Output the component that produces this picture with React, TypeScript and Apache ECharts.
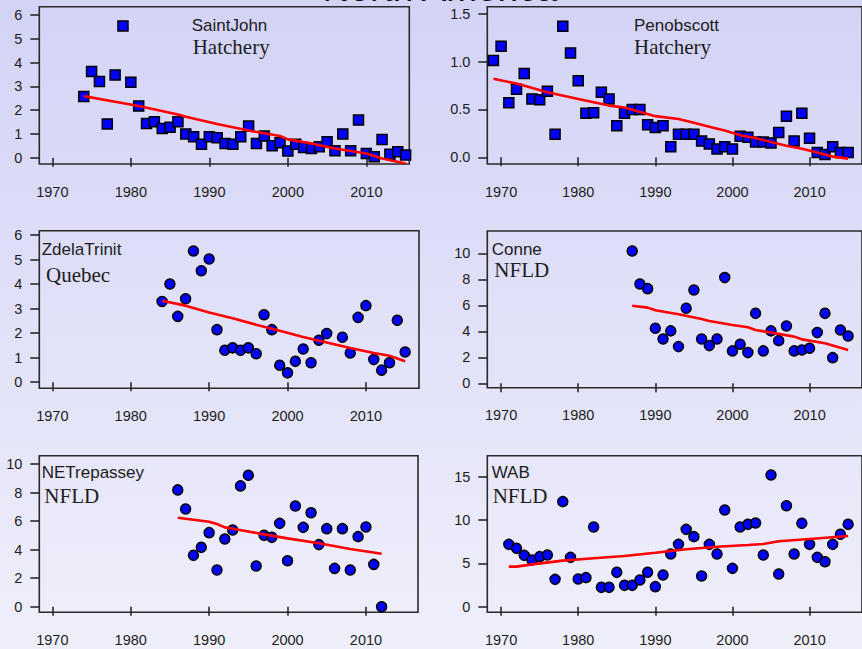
import { useEffect, useRef } from "react";
import * as echarts from "echarts";

// ---- SaintJohn (Hatchery) ----
const saintJohnYears = [1974, 1975, 1976, 1977, 1978, 1979, 1980, 1981, 1982, 1983, 1984, 1985, 1986, 1987, 1988, 1989, 1990, 1991, 1992, 1993, 1994, 1995, 1996, 1997, 1998, 1999, 2000, 2001, 2002, 2003, 2004, 2005, 2006, 2007, 2008, 2009, 2010, 2011, 2012, 2013, 2014, 2015];
const saintJohnValues = [2.57, 3.62, 3.2, 1.42, 3.48, 5.54, 3.17, 2.17, 1.44, 1.51, 1.23, 1.28, 1.51, 1.0, 0.88, 0.57, 0.88, 0.84, 0.6, 0.57, 0.88, 1.33, 0.6, 0.91, 0.5, 0.63, 0.28, 0.57, 0.43, 0.39, 0.46, 0.67, 0.29, 1.0, 0.29, 1.58, 0.18, 0.04, 0.77, 0.15, 0.25, 0.11];
const saintJohnTrendYears = [1974, 1978, 1981, 1986, 1987, 1991, 1995, 1999, 2000, 2003, 2006, 2010, 2012, 2015];
const saintJohnTrendValues = [2.59, 2.35, 2.17, 1.82, 1.72, 1.42, 1.14, 0.91, 0.77, 0.6, 0.39, 0.18, -0.03, -0.24];

// ---- Penobscott (Hatchery) ----
const penobscottYears = [1969, 1970, 1971, 1972, 1973, 1974, 1975, 1976, 1977, 1978, 1979, 1980, 1981, 1982, 1983, 1984, 1985, 1986, 1987, 1988, 1989, 1990, 1991, 1992, 1993, 1994, 1995, 1996, 1997, 1998, 1999, 2000, 2001, 2002, 2003, 2004, 2005, 2006, 2007, 2008, 2009, 2010, 2011, 2012, 2013, 2014, 2015];
const penobscottValues = [1.01, 1.16, 0.57, 0.71, 0.875, 0.61, 0.6, 0.69, 0.24, 1.37, 1.09, 0.8, 0.46, 0.465, 0.68, 0.61, 0.33, 0.46, 0.5, 0.5, 0.34, 0.31, 0.33, 0.11, 0.24, 0.24, 0.24, 0.17, 0.14, 0.087, 0.11, 0.087, 0.22, 0.21, 0.16, 0.16, 0.15, 0.26, 0.43, 0.17, 0.46, 0.2, 0.05, 0.03, 0.11, 0.05, 0.05];
const penobscottTrendYears = [1969, 1972, 1976, 1980, 1984, 1986, 1990, 1993, 1995, 1997, 1999, 2001, 2003, 2005, 2007, 2009, 2011, 2013, 2015];
const penobscottTrendValues = [0.82, 0.77, 0.68, 0.61, 0.54, 0.52, 0.43, 0.4, 0.36, 0.32, 0.28, 0.23, 0.2, 0.16, 0.12, 0.09, 0.05, 0.007, -0.014];

// ---- ZdelaTrinit (Quebec) ----
const zdelaTrinitYears = [1984, 1985, 1986, 1987, 1988, 1989, 1990, 1991, 1992, 1993, 1994, 1995, 1996, 1997, 1998, 1999, 2000, 2001, 2002, 2003, 2004, 2005, 2007, 2008, 2009, 2010, 2011, 2012, 2013, 2014, 2015];
const zdelaTrinitValues = [3.29, 4.0, 2.68, 3.4, 5.35, 4.54, 5.02, 2.14, 1.3, 1.4, 1.3, 1.4, 1.16, 2.75, 2.14, 0.69, 0.38, 0.85, 1.35, 0.79, 1.71, 1.98, 1.83, 1.19, 2.64, 3.12, 0.92, 0.49, 0.79, 2.52, 1.23];
const zdelaTrinitTrendYears = [1984, 1987, 1990, 1993, 1996, 1999, 2002, 2005, 2008, 2011, 2013, 2015];
const zdelaTrinitTrendValues = [3.32, 3.12, 2.84, 2.61, 2.34, 2.1, 1.84, 1.62, 1.39, 1.19, 1.08, 0.85];

// ---- Conne (NFLD) ----
const conneYears = [1987, 1988, 1989, 1990, 1991, 1992, 1993, 1994, 1995, 1996, 1997, 1998, 1999, 2000, 2001, 2002, 2003, 2004, 2005, 2006, 2007, 2008, 2009, 2010, 2011, 2012, 2013, 2014, 2015];
const conneValues = [10.18, 7.64, 7.28, 4.23, 3.41, 4.03, 2.82, 5.77, 7.18, 3.41, 2.9, 3.41, 8.13, 2.49, 3.0, 2.36, 5.38, 2.49, 4.03, 3.28, 4.41, 2.49, 2.56, 2.69, 3.9, 5.38, 1.97, 4.1, 3.64];
const conneTrendYears = [1987, 1989, 1990, 1993, 1996, 1997, 2000, 2002, 2003, 2005, 2008, 2009, 2012, 2015];
const conneTrendValues = [5.97, 5.82, 5.62, 5.31, 4.95, 4.79, 4.49, 4.31, 4.1, 3.9, 3.59, 3.38, 3.08, 2.56];

// ---- NETrepassey (NFLD) ----
const neTrepasseyYears = [1986, 1987, 1988, 1989, 1990, 1991, 1992, 1993, 1994, 1995, 1996, 1997, 1998, 1999, 2000, 2001, 2002, 2003, 2004, 2005, 2006, 2007, 2008, 2009, 2010, 2011, 2012];
const neTrepasseyValues = [8.2, 6.86, 3.61, 4.17, 5.2, 2.58, 4.75, 5.39, 8.48, 9.23, 2.86, 5.01, 4.87, 5.85, 3.23, 7.07, 5.57, 6.6, 4.36, 5.48, 2.69, 5.48, 2.58, 4.92, 5.6, 2.97, 0.0];
const neTrepasseyTrendYears = [1986, 1990, 1991, 1992, 1993, 1997, 2000, 2004, 2008, 2012];
const neTrepasseyTrendValues = [6.25, 5.97, 5.81, 5.57, 5.48, 5.08, 4.8, 4.45, 4.05, 3.72];

// ---- WAB (NFLD) ----
const wabYears = [1971, 1972, 1973, 1974, 1975, 1976, 1977, 1978, 1979, 1980, 1981, 1982, 1983, 1984, 1985, 1986, 1987, 1988, 1989, 1990, 1991, 1992, 1993, 1994, 1995, 1996, 1997, 1998, 1999, 2000, 2001, 2002, 2003, 2004, 2005, 2006, 2007, 2008, 2009, 2010, 2011, 2012, 2013, 2014, 2015];
const wabValues = [7.19, 6.73, 5.92, 5.38, 5.77, 5.96, 3.15, 12.12, 5.69, 3.19, 3.35, 9.19, 2.23, 2.23, 3.96, 2.46, 2.46, 3.08, 3.96, 2.31, 3.65, 6.08, 7.19, 8.92, 8.08, 3.54, 7.19, 6.08, 11.15, 4.42, 9.19, 9.5, 9.65, 5.96, 15.19, 3.77, 11.65, 6.08, 9.62, 7.19, 5.69, 5.19, 7.19, 8.35, 9.5];
const wabTrendYears = [1971, 1972, 1974, 1978, 1982, 1986, 1990, 1994, 1998, 2002, 2004, 2006, 2010, 2015];
const wabTrendValues = [4.62, 4.62, 4.88, 5.31, 5.58, 5.85, 6.23, 6.62, 6.92, 7.12, 7.23, 7.54, 7.81, 8.15];

// ---- tick labels ----
const yearTicks = [1970, 1980, 1990, 2000, 2010];
const saintJohnTicks = [0, 1, 2, 3, 4, 5, 6];
const penobscottTicks = [0, 0.5, 1, 1.5];
const zdelaTrinitTicks = [0, 1, 2, 3, 4, 5, 6];
const conneTicks = [0, 2, 4, 6, 8, 10];
const neTrepasseyTicks = [0, 2, 4, 6, 8, 10];
const wabTicks = [0, 5, 10, 15];

const pairs = (xs: number[], ys: number[]) => xs.map((x, i) => [x, ys[i]]);

type Panel = {
  name: string;
  region: string;
  years: number[];
  values: number[];
  trendYears: number[];
  trendValues: number[];
  ticks: number[];
  decimals: number;
  symbol: string;
  box: { left: number; top: number; width: number; height: number };
  x: [number, number];
  y: [number, number];
  nameAt: [number, number];
  regionAt: [number, number];
};

const panels: Panel[] = [
  {
    name: "SaintJohn", region: "Hatchery",
    years: saintJohnYears, values: saintJohnValues,
    trendYears: saintJohnTrendYears, trendValues: saintJohnTrendValues,
    ticks: saintJohnTicks, decimals: 0, symbol: "rect",
    box: { left: 39.3, top: 6.7, width: 370, height: 157.3 },
    x: [1968.34, 2015.47], y: [-0.265, 6.349],
    nameAt: [191.7, 25.8], regionAt: [192.7, 46.9],
  },
  {
    name: "Penobscott", region: "Hatchery",
    years: penobscottYears, values: penobscottValues,
    trendYears: penobscottTrendYears, trendValues: penobscottTrendValues,
    ticks: penobscottTicks, decimals: 1, symbol: "rect",
    box: { left: 487.3, top: 6.7, width: 380.5, height: 157.3 },
    x: [1968.21, 2016.8], y: [-0.07, 1.573],
    nameAt: [634, 25.8], regionAt: [634, 46.9],
  },
  {
    name: "ZdelaTrinit", region: "Quebec",
    years: zdelaTrinitYears, values: zdelaTrinitValues,
    trendYears: zdelaTrinitTrendYears, trendValues: zdelaTrinitTrendValues,
    ticks: zdelaTrinitTicks, decimals: 0, symbol: "circle",
    box: { left: 39.3, top: 230.7, width: 379.7, height: 157.6 },
    x: [1968.34, 2016.77], y: [-0.25, 6.175],
    nameAt: [41.7, 249.1], regionAt: [46, 274.6],
  },
  {
    name: "Conne", region: "NFLD",
    years: conneYears, values: conneValues,
    trendYears: conneTrendYears, trendValues: conneTrendValues,
    ticks: conneTicks, decimals: 0, symbol: "circle",
    box: { left: 487.3, top: 231, width: 380.5, height: 156.7 },
    x: [1968.21, 2016.8], y: [-0.34, 11.715],
    nameAt: [491.7, 249.1], regionAt: [494.3, 269.6],
  },
  {
    name: "NETrepassey", region: "NFLD",
    years: neTrepasseyYears, values: neTrepasseyValues,
    trendYears: neTrepasseyTrendYears, trendValues: neTrepasseyTrendValues,
    ticks: neTrepasseyTicks, decimals: 0, symbol: "circle",
    box: { left: 39.3, top: 455.7, width: 378.7, height: 156.6 },
    x: [1968.34, 2016.64], y: [-0.39, 10.6],
    nameAt: [41.7, 472.4], regionAt: [44.3, 495.6],
  },
  {
    name: "WAB", region: "NFLD",
    years: wabYears, values: wabValues,
    trendYears: wabTrendYears, trendValues: wabTrendValues,
    ticks: wabTicks, decimals: 0, symbol: "circle",
    box: { left: 487.3, top: 455.7, width: 380.5, height: 156.6 },
    x: [1968.21, 2016.8], y: [-0.65, 17.42],
    nameAt: [491.7, 472.4], regionAt: [492.7, 495.6],
  },
];

const INK = "#1c1c1c";
const FRAME = "#2a2a2a";
const SANS = "'Liberation Sans', Arial, sans-serif";
const SERIF = "'Liberation Serif', 'Times New Roman', serif";

export default function App() {
  const ref = useRef<HTMLDivElement>(null);

  useEffect(() => {
    if (!ref.current) return;
    const chart = echarts.init(ref.current, undefined, { renderer: "svg" });

    const grid = panels.map((p) => ({
      left: p.box.left,
      top: p.box.top,
      width: p.box.width,
      height: p.box.height,
      show: true,
      borderColor: FRAME,
      borderWidth: 1.6,
      backgroundColor: "transparent",
      containLabel: false,
    }));

    const xAxis = panels.map((p, i) => ({
      type: "value",
      gridIndex: i,
      min: p.x[0],
      max: p.x[1],
      axisLine: { show: false },
      splitLine: { show: false },
      axisTick: {
        show: true,
        length: 9,
        customValues: yearTicks,
        lineStyle: { color: FRAME, width: 1.6 },
      },
      axisLabel: {
        show: true,
        customValues: yearTicks,
        margin: 20,
        color: INK,
        fontSize: 14.5,
        fontFamily: SANS,
        formatter: (v: number) => String(Math.round(v)),
      },
    }));

    const yAxis = panels.map((p, i) => ({
      type: "value",
      gridIndex: i,
      min: p.y[0],
      max: p.y[1],
      axisLine: { show: false },
      splitLine: { show: false },
      axisTick: {
        show: true,
        length: 9,
        customValues: p.ticks,
        lineStyle: { color: FRAME, width: 1.6 },
      },
      axisLabel: {
        show: true,
        customValues: p.ticks,
        margin: 17,
        color: INK,
        fontSize: 14.5,
        fontFamily: SANS,
        formatter: (v: number) => v.toFixed(p.decimals),
      },
    }));

    const series: any[] = [];
    panels.forEach((p, i) => {
      series.push({
        type: "scatter",
        xAxisIndex: i,
        yAxisIndex: i,
        symbol: p.symbol,
        symbolSize: 10,
        data: pairs(p.years, p.values),
        itemStyle: { color: "#0000ff", borderColor: "#000000", borderWidth: 1.5, opacity: 1 },
        z: 2,
      });
      series.push({
        type: "line",
        xAxisIndex: i,
        yAxisIndex: i,
        data: pairs(p.trendYears, p.trendValues),
        showSymbol: false,
        symbol: "none",
        lineStyle: { color: "#ff0000", width: 2.6 },
        z: 3,
      });
    });

    const labels: any[] = [];
    panels.forEach((p) => {
      labels.push({
        type: "text",
        x: p.nameAt[0],
        y: p.nameAt[1],
        style: { text: p.name, fill: INK, font: `17px ${SANS}`, textAlign: "left", textVerticalAlign: "middle" },
      });
      labels.push({
        type: "text",
        x: p.regionAt[0],
        y: p.regionAt[1],
        style: { text: p.region, fill: INK, font: `21px ${SERIF}`, textAlign: "left", textVerticalAlign: "middle" },
      });
    });
    labels.push({
      type: "text",
      x: 440,
      y: -12,
      style: { text: "North America", fill: "#111111", font: `37px ${SANS}`, textAlign: "center", textVerticalAlign: "middle" },
    });

    chart.setOption({
      animation: false,
      backgroundColor: new echarts.graphic.LinearGradient(0, 0, 0, 1, [
        { offset: 0, color: "#d3d3f6" },
        { offset: 1, color: "#efeffb" },
      ]),
      grid,
      xAxis,
      yAxis,
      series,
      graphic: labels,
    });

    return () => chart.dispose();
  }, []);

  return (
    <div
      ref={ref}
      style={{ position: "fixed", left: 0, top: 0, width: 862, height: 649 }}
    />
  );
}
